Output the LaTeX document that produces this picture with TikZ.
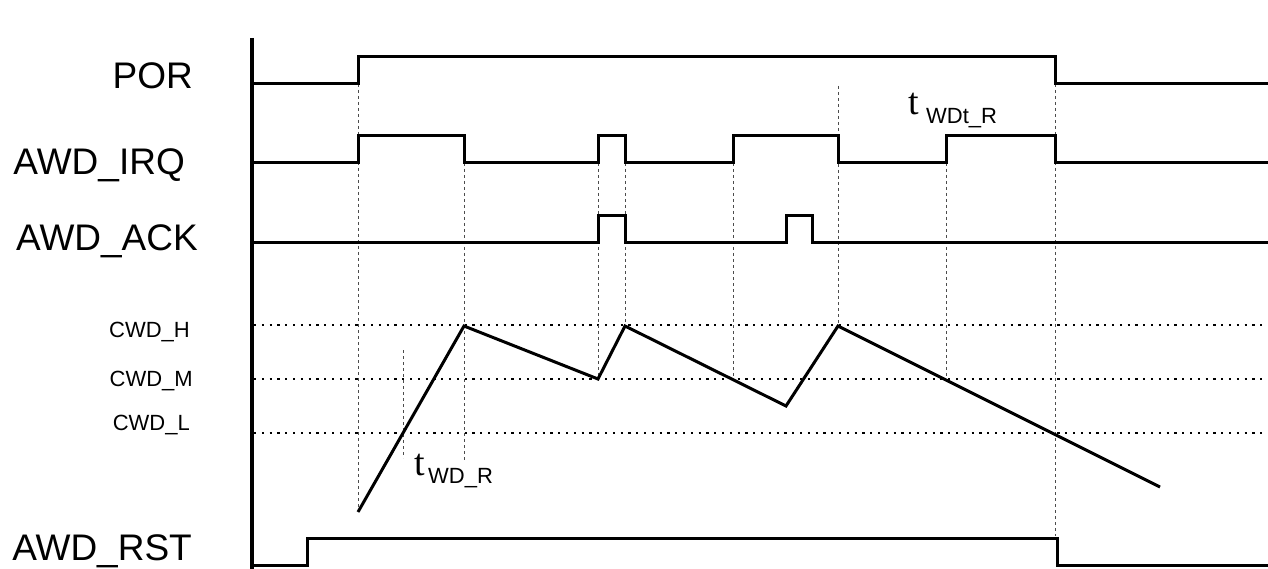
\documentclass[tikz,border=0pt]{standalone}
\usepackage{fontspec}
\setmainfont{Liberation Sans}
\newfontfamily\tserif{Liberation Serif}
\usetikzlibrary{positioning}

\begin{document}
\begin{tikzpicture}[
  x=1pt, y=-1pt,
  sig/.style={line width=3pt, line join=miter},
  axisline/.style={line width=3.8pt},
  guide/.style={black!70, line width=1pt, dash pattern=on 3pt off 3pt},
  level/.style={line width=2.2pt, dash pattern=on 2.2pt off 5.6pt},
  sname/.style={anchor=base east, inner sep=0pt, font=\fontsize{37}{40}\selectfont},
  lname/.style={anchor=base east, inner sep=0pt, font=\fontsize{22}{24}\selectfont},
  tsym/.style={anchor=base west, inner sep=0pt, font=\tserif\fontsize{38}{40}\selectfont},
  tsub/.style={anchor=base west, inner sep=0pt, font=\fontsize{22}{24}\selectfont}
]
\useasboundingbox (0,0) rectangle (1268,569);

% signal names
\node[sname] (por) at (193,89)  {POR};
\node[sname] (irq) at (185,175) {AWD\_IRQ};
\node[sname] (ack) at (198,251) {AWD\_ACK};
\node[sname] (rst) at (192,560) {AWD\_RST};

% counter levels
\node[lname] (cwdh) at (190,337) {CWD\_H};
\node[lname] (cwdm) at (193,386) {CWD\_M};
\node[lname] (cwdl) at (190,430) {CWD\_L};

% axis
\draw[axisline] (252,38) -- (252,569);

% threshold lines
\foreach \y in {325,379,433}
  \draw[level] (254,\y) -- (1268,\y);

% guide lines
\draw[guide] (358,84)  -- (358,512);
\draw[guide] (464,163) -- (464,460);
\draw[guide] (598,163) -- (598,379);
\draw[guide] (625,163) -- (625,326);
\draw[guide] (733,163) -- (733,379);
\draw[guide] (838,86)  -- (838,326);
\draw[guide] (946,163) -- (946,379);
\draw[guide] (1055,84) -- (1055,536);
\draw[guide] (403,350) -- (403,458);

% POR
\draw[sig] (254,84) -- (358,84) -- (358,57) -- (1055,57) -- (1055,84) -- (1268,84);

% AWD_IRQ
\draw[sig] (254,163) -- (358,163) -- (358,136) -- (464,136) -- (464,163)
  -- (598,163) -- (598,136) -- (625,136) -- (625,163)
  -- (733,163) -- (733,136) -- (838,136) -- (838,163)
  -- (946,163) -- (946,136) -- (1055,136) -- (1055,163) -- (1268,163);

% AWD_ACK
\draw[sig] (254,243) -- (598,243) -- (598,216) -- (625,216) -- (625,243)
  -- (786,243) -- (786,216) -- (812,216) -- (812,243) -- (1268,243);

% counter
\draw[sig] (358,512) -- (464,326) -- (598,379) -- (625,326)
  -- (786,406) -- (838,326) -- (1160,487);

% AWD_RST
\draw[sig] (254,565) -- (307,565) -- (307,538) -- (1057,538) -- (1057,565) -- (1268,565);

% timing labels
\node[tsym] (twdr) at (414,475) {t};
\node[tsub] (twdrs) at (428,483) {WD\_R};
\node[tsym] (twdtr) at (908,115) {t};
\node[tsub] (twdtrs) at (926,124) {WDt\_R};

\end{tikzpicture}
\end{document}
